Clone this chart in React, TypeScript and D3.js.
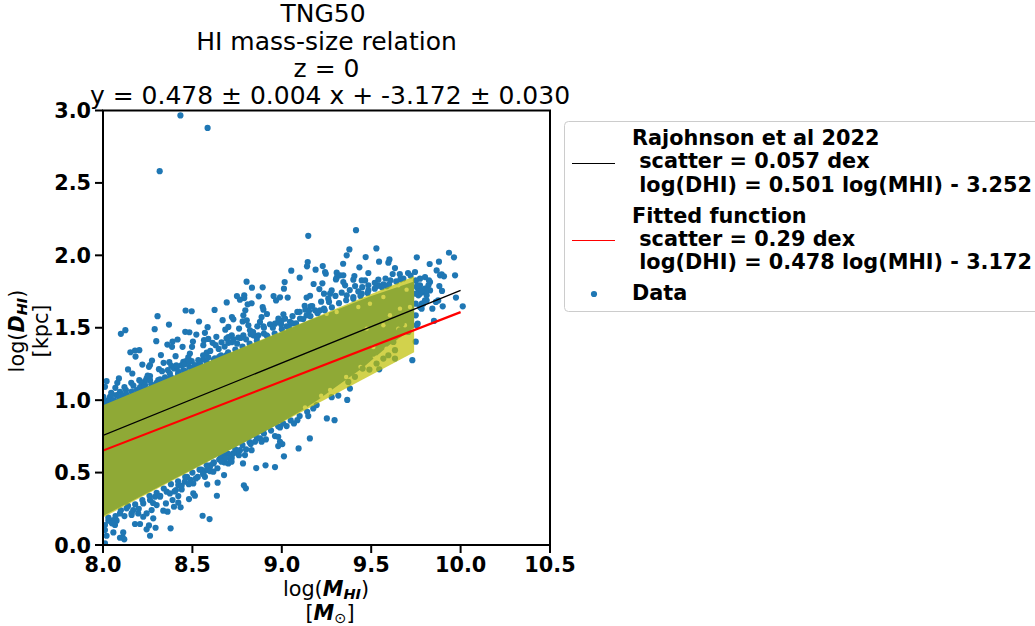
import React from "react";
import * as d3 from "d3";

const titleLines = ["TNG50", "HI mass-size relation", "z = 0", "y = 0.478 ± 0.004 x + -3.172 ± 0.030"];
const xTicks = [8, 8.5, 9, 9.5, 10, 10.5];
const yTicks = [0, 0.5, 1, 1.5, 2, 2.5, 3];
const lineX = [8, 10];
const rajohnsonY = [0.756, 1.758];
const fittedY = [0.652, 1.608];
const bandTop: [number, number][] = [[8, 0.965], [9.74, 1.855]];
const bandBottom: [number, number][] = [[8, 0.19], [9.74, 1.33]];
// the part of the band where the data points overlap solidly
const denseTop: [number, number][] = [[8, 0.97], [9.0, 1.47], [9.15, 1.55], [9.3, 1.62], [9.5, 1.72], [9.74, 1.82]];
const denseBottom: [number, number][] = [[8, 0.2], [8.9, 0.78], [9.0, 0.85], [9.1, 0.92], [9.2, 1.0], [9.3, 1.09], [9.45, 1.22], [9.6, 1.38], [9.74, 1.5]];
const sparseGaps: [number, number][] = [
  [9.568, 1.712], [9.698, 1.763], [9.652, 1.793], [9.307, 1.609], [9.428, 1.643], [9.493, 1.666], [9.251, 1.597], [9.717, 1.643],
  [9.661, 1.632], [9.605, 1.586], [9.689, 1.517], [9.652, 1.494], [9.568, 1.517], [9.475, 1.494], [9.717, 1.436], [9.661, 1.413],
  [9.586, 1.356], [9.512, 1.367], [9.13, 0.95], [9.22, 1.03], [9.27, 1.07], [9.36, 1.16], [9.44, 1.23], [9.52, 1.3],
];

const outliers: [number, number][] = [[8.433, 2.966], [8.585, 2.88], [8.317, 2.581]];
const upperLeft: [number, number][] = [
  [8.462, 1.619], [8.496, 1.614], [8.624, 1.623], [8.305, 1.58], [8.369, 1.522], [8.537, 1.543], [8.669, 1.552], [8.701, 1.506], [8.585, 1.504],
  [8.125, 1.483], [8.1, 1.458], [8.289, 1.49], [8.46, 1.472], [8.483, 1.469], [8.522, 1.453], [8.57, 1.465], [8.634, 1.437], [8.691, 1.426],
  [8.298, 1.407], [8.417, 1.419], [8.389, 1.405], [8.36, 1.384], [8.386, 1.368], [8.503, 1.405], [8.498, 1.368], [8.445, 1.368], [8.565, 1.414],
  [8.589, 1.423], [8.613, 1.396], [8.561, 1.38], [8.63, 1.38], [8.647, 1.354], [8.663, 1.4], [8.701, 1.396], [8.203, 1.345], [8.179, 1.343],
  [8.153, 1.331], [8.182, 1.301], [8.324, 1.311], [8.406, 1.304], [8.486, 1.322], [8.58, 1.329], [8.477, 1.295], [8.691, 1.311], [8.22, 1.246],
  [8.274, 1.274], [8.263, 1.242], [8.257, 1.23], [8.339, 1.258], [8.371, 1.262], [8.382, 1.237], [8.449, 1.265], [8.464, 1.269], [8.496, 1.269],
  [8.533, 1.276], [8.561, 1.281], [8.589, 1.295], [8.626, 1.288], [8.65, 1.299], [8.14, 1.212], [8.164, 1.184], [8.158, 1.12], [8.313, 1.214],
  [8.363, 1.207], [8.397, 1.219], [8.415, 1.23], [8.44, 1.242], [8.458, 1.249], [8.483, 1.23], [8.514, 1.242], [8.542, 1.253], [8.374, 1.184],
  [8.421, 1.196], [8.449, 1.207], [8.263, 1.166], [8.244, 1.15], [8.235, 1.131], [8.203, 1.138], [8.216, 1.115], [8.263, 1.138], [8.319, 1.143],
  [8.347, 1.157], [8.337, 1.138], [8.309, 1.138], [8.089, 1.15], [8.08, 1.12], [8.069, 1.085], [8.02, 1.131], [8.011, 1.092], [8.046, 1.051],
  [8.076, 1.035], [8.095, 1.058], [8.128, 1.069], [8.11, 1.035], [8.039, 1.023], [8.03, 1.0], [8.002, 1.023], [8.011, 0.989], [8.207, 1.088],
  [8.235, 1.104],
];
const upperMiddle: [number, number][] = [
  [9.148, 2.135], [9.145, 1.954], [9.141, 1.924], [9.229, 1.926], [9.189, 1.901], [9.053, 1.894], [9.242, 1.885], [9.1, 1.846], [8.803, 1.818],
  [9.016, 1.816], [9.178, 1.802], [9.227, 1.807], [8.833, 1.777], [8.893, 1.779], [9.012, 1.77], [9.21, 1.767], [9.236, 1.735], [8.749, 1.719],
  [8.79, 1.724], [8.871, 1.717], [8.954, 1.719], [8.79, 1.705], [8.766, 1.694], [8.99, 1.71], [8.968, 1.689], [9.033, 1.708], [9.158, 1.721],
  [9.139, 1.708], [9.26, 1.701], [8.692, 1.675], [8.831, 1.669], [8.809, 1.662], [9.264, 1.678], [8.893, 1.643], [8.897, 1.625], [8.796, 1.62],
  [9.128, 1.652], [9.161, 1.648], [9.087, 1.609], [9.132, 1.625], [9.152, 1.616], [9.186, 1.62], [9.214, 1.62], [9.236, 1.632], [8.785, 1.586],
  [8.917, 1.595], [9.009, 1.593], [8.887, 1.574], [8.721, 1.574], [8.729, 1.558], [8.781, 1.544], [8.804, 1.551], [8.813, 1.517], [8.878, 1.54],
  [8.981, 1.563], [9.0, 1.551], [9.018, 1.563], [9.046, 1.54], [9.102, 1.563], [9.139, 1.586], [8.684, 1.487], [8.761, 1.494], [8.863, 1.51],
  [8.897, 1.51], [8.934, 1.524], [8.962, 1.528], [8.996, 1.524], [9.027, 1.51], [8.822, 1.482], [8.826, 1.455], [8.785, 1.448], [8.72, 1.448],
  [8.701, 1.436], [8.757, 1.432], [8.841, 1.448], [8.915, 1.448], [8.869, 1.448], [8.72, 1.4], [8.75, 1.39], [8.8, 1.42], [8.86, 1.43],
  [8.9, 1.46], [8.95, 1.5], [9.04, 1.5], [9.06, 1.53],
];
const upperRight: [number, number][] = [
  [9.415, 2.174], [9.378, 2.041], [9.363, 2.0], [9.529, 2.048], [9.469, 1.988], [9.755, 1.986], [9.544, 1.956], [9.602, 1.972], [9.596, 1.949],
  [9.343, 1.942], [9.434, 1.917], [9.827, 1.94], [9.879, 1.956], [9.246, 1.873], [9.633, 1.912], [9.866, 1.896], [9.484, 1.878], [9.307, 1.88],
  [9.62, 1.871], [9.706, 1.878], [9.745, 1.885], [9.406, 1.857], [9.344, 1.862], [9.326, 1.862], [9.307, 1.846], [9.303, 1.834], [9.4, 1.832],
  [9.885, 1.862], [9.54, 1.832], [9.447, 1.827], [9.466, 1.827], [9.663, 1.834], [9.607, 1.827], [9.801, 1.85], [9.773, 1.839], [9.829, 1.816],
  [9.344, 1.816], [9.354, 1.793], [9.484, 1.793], [9.41, 1.788], [9.54, 1.793], [9.531, 1.788], [9.568, 1.8], [9.587, 1.788], [9.82, 1.793],
  [9.773, 1.793], [9.279, 1.758], [9.27, 1.735], [9.335, 1.742], [9.363, 1.724], [9.428, 1.751], [9.447, 1.735], [9.484, 1.758], [9.773, 1.758],
  [9.786, 1.747], [9.81, 1.724], [9.764, 1.724], [9.4, 1.712], [9.801, 1.689], [9.783, 1.666], [9.801, 1.77], [9.829, 1.758], [9.755, 1.781],
  [9.935, 2.018], [9.963, 1.986], [9.894, 1.869], [9.907, 1.855], [9.969, 1.862], [9.823, 1.827], [9.881, 1.788], [9.896, 1.754], [9.974, 1.708],
  [9.81, 1.689], [9.875, 1.689], [9.862, 1.678], [9.9, 1.648], [9.842, 1.632], [9.782, 1.632], [10.012, 1.648], [9.851, 1.547], [9.76, 1.528],
  [9.749, 1.404], [9.73, 1.276], [9.545, 1.213], [9.381, 1.08], [9.773, 1.735], [9.763, 1.77], [9.75, 1.827], [9.75, 1.735], [9.749, 1.666],
  [9.749, 1.586], [9.754, 1.517], [9.758, 1.793], [9.806, 1.758], [9.782, 1.758], [9.791, 1.666], [9.773, 1.643],
];
const bandUpperEdge: [number, number][] = [
  [8.03, 0.99], [8.06, 1.0], [8.09, 1.02], [8.13, 1.04], [8.16, 1.06], [8.19, 1.07], [8.23, 1.09], [8.27, 1.11], [8.3, 1.12], [8.34, 1.14],
  [8.38, 1.16], [8.42, 1.18], [8.46, 1.2], [8.5, 1.22], [8.54, 1.24], [8.58, 1.26], [8.62, 1.28], [8.66, 1.31], [8.7, 1.33], [8.74, 1.35],
  [8.78, 1.37], [8.82, 1.39], [8.86, 1.41], [8.92, 1.44], [8.96, 1.46], [9.0, 1.49], [9.08, 1.53], [9.12, 1.56], [9.16, 1.58], [9.2, 1.6],
  [9.24, 1.62], [9.28, 1.64], [9.32, 1.67], [9.36, 1.69], [9.4, 1.7], [9.44, 1.72], [9.48, 1.74], [9.52, 1.77], [9.56, 1.78], [9.6, 1.8],
  [9.64, 1.82], [9.68, 1.84], [9.72, 1.86], [8.05, 1.04], [8.12, 1.09], [8.17, 1.1], [8.25, 1.17], [8.33, 1.2], [8.41, 1.24], [8.48, 1.27],
  [8.56, 1.31], [8.6, 1.34], [8.68, 1.37], [8.73, 1.42], [8.77, 1.43], [8.84, 1.47], [8.9, 1.5], [8.98, 1.54], [9.06, 1.58], [9.1, 1.61],
  [9.17, 1.65], [9.22, 1.68], [9.3, 1.72], [9.38, 1.76], [9.45, 1.78], [9.52, 1.81], [9.58, 1.84], [9.66, 1.87],
];
const lowerLeft: [number, number][] = [
  [8.701, 0.563], [8.617, 0.563], [8.598, 0.54], [8.58, 0.517], [8.561, 0.494], [8.57, 0.471], [8.617, 0.506], [8.677, 0.483], [8.641, 0.43],
  [8.583, 0.418], [8.505, 0.425], [8.458, 0.437], [8.421, 0.414], [8.44, 0.384], [8.408, 0.379], [8.356, 0.368], [8.374, 0.356], [8.505, 0.356],
  [8.514, 0.34], [8.637, 0.34], [8.481, 0.317], [8.421, 0.338], [8.319, 0.333], [8.291, 0.333], [8.263, 0.31], [8.225, 0.287], [8.389, 0.31],
  [8.421, 0.292], [8.352, 0.287], [8.3, 0.276], [8.434, 0.26], [8.397, 0.264], [8.337, 0.237], [8.361, 0.23], [8.169, 0.241], [8.132, 0.253],
  [8.095, 0.218], [8.272, 0.241], [8.244, 0.218], [8.225, 0.195], [8.197, 0.218], [8.281, 0.184], [8.557, 0.202], [8.596, 0.179], [8.16, 0.207],
  [8.179, 0.145], [8.207, 0.145], [8.257, 0.135], [8.244, 0.108], [8.294, 0.119], [8.378, 0.115], [8.076, 0.168], [8.067, 0.138], [8.03, 0.168],
  [8.011, 0.138], [8.011, 0.103], [8.058, 0.087], [8.113, 0.087], [8.11, 0.053], [8.095, 0.05], [8.119, 0.039], [8.263, 0.064], [8.02, 0.064],
  [8.011, 0.011], [8.058, 0.172], [8.47, 0.47], [8.49, 0.45], [8.53, 0.47], [8.55, 0.52], [8.6, 0.55], [8.65, 0.59], [8.68, 0.62],
];
const bandLowerEdge: [number, number][] = [
  [8.03, 0.19], [8.07, 0.2], [8.1, 0.24], [8.14, 0.27], [8.18, 0.28], [8.22, 0.31], [8.26, 0.34], [8.3, 0.36], [8.34, 0.39], [8.38, 0.42],
  [8.42, 0.44], [8.46, 0.47], [8.5, 0.5], [8.54, 0.52], [8.58, 0.55], [8.62, 0.57], [8.66, 0.61], [8.7, 0.63], [8.74, 0.66], [8.78, 0.69],
  [8.82, 0.71], [8.86, 0.74], [8.9, 0.77], [8.94, 0.79], [8.98, 0.82], [9.05, 0.86], [9.1, 0.89], [8.05, 0.15], [8.12, 0.2], [8.16, 0.22],
  [8.2, 0.25], [8.28, 0.29], [8.32, 0.34], [8.4, 0.37], [8.44, 0.41], [8.48, 0.42], [8.52, 0.46], [8.56, 0.49], [8.6, 0.51], [8.64, 0.53],
  [8.68, 0.57], [8.72, 0.6], [8.76, 0.62], [8.8, 0.66],
];
const lowerRight: [number, number][] = [
  [9.366, 1.002], [9.316, 1.032], [9.279, 1.021], [9.195, 0.966], [9.176, 0.943], [9.142, 0.92], [9.148, 0.89], [9.087, 0.862], [9.068, 0.839],
  [9.027, 0.821], [8.99, 0.812], [9.008, 0.839], [9.252, 0.874], [9.295, 0.862], [9.157, 0.736], [8.911, 0.729], [8.878, 0.736], [8.85, 0.713],
  [8.826, 0.697], [8.831, 0.655], [8.962, 0.752], [8.98, 0.747], [8.99, 0.713], [9.003, 0.697], [8.98, 0.683], [9.094, 0.667], [9.012, 0.612],
  [8.766, 0.655], [8.794, 0.621], [8.747, 0.644], [8.729, 0.632], [8.71, 0.598], [8.719, 0.575], [8.783, 0.563], [8.857, 0.531], [8.909, 0.55],
  [8.962, 0.538], [8.682, 0.598], [8.663, 0.575], [8.788, 0.412], [8.799, 0.391], [8.887, 0.713],
];
const insideBandRight: [number, number][] = [
  [9.633, 1.287], [9.596, 1.31], [9.568, 1.287], [9.53, 1.253], [9.49, 1.211], [9.452, 1.218], [9.409, 1.161], [9.372, 1.126], [9.633, 1.345],
  [9.661, 1.482], [9.708, 1.471], [9.717, 1.528], [9.67, 1.528], [9.586, 1.414], [9.549, 1.379], [9.512, 1.322], [9.475, 1.299], [9.437, 1.276],
  [9.4, 1.23], [9.624, 1.402], [9.689, 1.586],
];
const allPoints = [...outliers, ...upperLeft, ...upperMiddle, ...upperRight, ...bandUpperEdge, ...lowerLeft, ...bandLowerEdge, ...lowerRight, ...insideBandRight];

const legendEntries = [
  { lines: ["Rajohnson et al 2022", " scatter = 0.057 dex", " log(DHI) = 0.501 log(MHI) - 3.252"], color: "#000000" },
  { lines: ["Fitted function", " scatter = 0.29 dex", " log(DHI) = 0.478 log(MHI) - 3.172"], color: "#ff0000" },
];

const font = "'DejaVu Sans'";
const BLUE = "#1f77b4";
const titleCenters = [323, 326.5, 326.5, 330];
const titleBaselines = [22, 49.5, 77, 104];
const legendBaselines = [145, 222.5];
const legendHandleY = [163.5, 240.5];

export default function App() {
  const x = d3.scaleLinear().domain([8, 10.5]).range([103, 550]);
  const y = d3.scaleLinear().domain([0, 3]).range([545, 110.5]);
  const line = d3.line<[number, number]>().x((d) => x(d[0])).y((d) => y(d[1]));
  const poly = (top: [number, number][], bot: [number, number][]) =>
    line([...top, ...[...bot].reverse()]) + "Z";
  const seg = (ys: number[]) => line(lineX.map((v, i) => [v, ys[i]] as [number, number])) as string;

  return (
    <svg
      width={1035}
      height={626}
      viewBox="0 0 1035 626"
      style={{ position: "absolute", left: 0, top: 0, background: "#fff" }}
      fontFamily={font}
    >
      <defs>
        <clipPath id="axes-clip">
          <rect x={x(8)} y={y(3)} width={x(10.5) - x(8)} height={y(0) - y(3)} />
        </clipPath>
      </defs>
      <g clipPath="url(#axes-clip)">
        <path d={poly(denseTop, denseBottom)} fill={BLUE} />
        {sparseGaps.map((d, i) => (
          <circle key={i} cx={x(d[0])} cy={y(d[1])} r={2.2} fill="#fff" />
        ))}
        {allPoints.map((d, i) => (
          <circle key={i} cx={x(d[0])} cy={y(d[1])} r={3.1} fill={BLUE} />
        ))}
        <path d={poly(bandTop, bandBottom)} fill="#bfbf00" fillOpacity={0.7} />
        <path d={seg(rajohnsonY)} stroke="#000" strokeWidth={1.3} fill="none" />
        <path d={seg(fittedY)} stroke="#ff0000" strokeWidth={2.2} fill="none" />
      </g>
      <rect x={x(8)} y={y(3)} width={x(10.5) - x(8)} height={y(0) - y(3)} fill="none" stroke="#000" strokeWidth={2} />
      {xTicks.map((t) => (
        <g key={t}>
          <line x1={x(t)} x2={x(t)} y1={545} y2={553} stroke="#000" strokeWidth={2} />
          <text x={x(t)} y={572} textAnchor="middle" fontSize={20.8} fontWeight="bold">{t.toFixed(1)}</text>
        </g>
      ))}
      {yTicks.map((t) => (
        <g key={t}>
          <line x1={95} x2={103} y1={y(t)} y2={y(t)} stroke="#000" strokeWidth={2} />
          <text x={91} y={y(t) + 7.5} textAnchor="end" fontSize={20.8} fontWeight="bold">{t.toFixed(1)}</text>
        </g>
      ))}
      {titleLines.map((s, i) => (
        <text key={s} x={titleCenters[i]} y={titleBaselines[i]} textAnchor="middle" fontSize={25}>{s}</text>
      ))}
      <text x={326} y={596} textAnchor="middle" fontSize={20.8}>
        log(<tspan fontWeight="bold" fontStyle="italic">M</tspan>
        <tspan fontWeight="bold" fontStyle="italic" fontSize={14.5} dy={3}>HI</tspan>
        <tspan dy={-3}>)</tspan>
      </text>
      <text x={330} y={620} textAnchor="middle" fontSize={20.8}>
        [<tspan fontWeight="bold" fontStyle="italic">M</tspan>
        <tspan fontSize={14.5} dy={3}>⊙</tspan>
        <tspan dy={-3}>]</tspan>
      </text>
      <text transform="translate(24,331) rotate(-90)" textAnchor="middle" fontSize={20.8}>
        log(<tspan fontWeight="bold" fontStyle="italic">D</tspan>
        <tspan fontWeight="bold" fontStyle="italic" fontSize={14.5} dy={3}>HI</tspan>
        <tspan dy={-3}>)</tspan>
      </text>
      <text transform="translate(48,331) rotate(-90)" textAnchor="middle" fontSize={20.8}>[kpc]</text>

      <rect x={564.5} y={121.5} width={480} height={190} rx={4} fill="#fff" fillOpacity={0.8} stroke="#ccc" strokeWidth={1} />
      {legendEntries.map((e, i) => (
        <g key={i}>
          <line x1={572} x2={615} y1={legendHandleY[i]} y2={legendHandleY[i]} stroke={e.color} strokeWidth={1} />
          {e.lines.map((s, j) => (
            <text key={j} x={632} y={legendBaselines[i] + j * 23.3} fontSize={20.8} fontWeight="bold" xmlSpace="preserve" style={{ whiteSpace: "pre" }}>{s}</text>
          ))}
        </g>
      ))}
      <circle cx={594} cy={294} r={3.1} fill={BLUE} />
      <text x={632} y={300} fontSize={20.8} fontWeight="bold">Data</text>
    </svg>
  );
}
